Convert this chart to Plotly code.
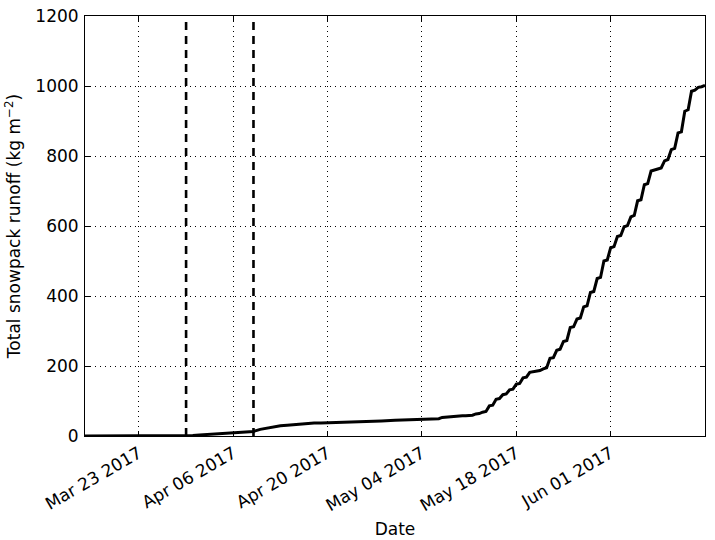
import plotly.graph_objects as go

# ---- data ----
times = [
    "2017-03-15", "2017-03-30", "2017-03-31", "2017-04-01", "2017-04-02", "2017-04-03",
    "2017-04-04", "2017-04-05", "2017-04-06", "2017-04-07", "2017-04-08", "2017-04-09",
    "2017-04-10", "2017-04-11", "2017-04-12", "2017-04-13", "2017-04-14", "2017-04-15",
    "2017-04-16", "2017-04-17", "2017-04-18", "2017-04-19", "2017-04-20", "2017-04-22",
    "2017-04-24", "2017-04-26", "2017-04-28", "2017-04-30", "2017-05-02",
    "2017-05-04 00:00", "2017-05-04 12:00", "2017-05-05 00:00", "2017-05-05 12:00",
    "2017-05-06 00:00", "2017-05-06 12:00", "2017-05-07 00:00", "2017-05-07 12:00",
    "2017-05-08 00:00", "2017-05-08 12:00", "2017-05-09 00:00", "2017-05-09 12:00",
    "2017-05-10 00:00", "2017-05-10 12:00", "2017-05-11 00:00", "2017-05-11 12:00",
    "2017-05-12 00:00", "2017-05-12 12:00", "2017-05-13 00:00", "2017-05-13 12:00",
    "2017-05-14 00:00", "2017-05-14 12:00", "2017-05-15 00:00", "2017-05-15 12:00",
    "2017-05-16 00:00", "2017-05-16 12:00", "2017-05-17 00:00", "2017-05-17 12:00",
    "2017-05-18 00:00", "2017-05-18 12:00", "2017-05-19 00:00", "2017-05-19 12:00",
    "2017-05-20 00:00", "2017-05-20 12:00", "2017-05-21 00:00", "2017-05-21 12:00",
    "2017-05-22 00:00", "2017-05-22 12:00", "2017-05-23 00:00", "2017-05-23 12:00",
    "2017-05-24 00:00", "2017-05-24 12:00", "2017-05-25 00:00", "2017-05-25 12:00",
    "2017-05-26 00:00", "2017-05-26 12:00", "2017-05-27 00:00", "2017-05-27 12:00",
    "2017-05-28 00:00", "2017-05-28 12:00", "2017-05-29 00:00", "2017-05-29 12:00",
    "2017-05-30 00:00", "2017-05-30 12:00", "2017-05-31 00:00", "2017-05-31 12:00",
    "2017-06-01 00:00", "2017-06-01 12:00", "2017-06-02 00:00", "2017-06-02 12:00",
    "2017-06-03 00:00", "2017-06-03 12:00", "2017-06-04 00:00", "2017-06-04 12:00",
    "2017-06-05 00:00", "2017-06-05 12:00", "2017-06-06 00:00", "2017-06-06 12:00",
    "2017-06-07 00:00", "2017-06-07 12:00", "2017-06-08 00:00", "2017-06-08 12:00",
    "2017-06-09 00:00", "2017-06-09 12:00", "2017-06-10 00:00", "2017-06-10 12:00",
    "2017-06-11 00:00", "2017-06-11 12:00", "2017-06-12 00:00", "2017-06-12 12:00",
    "2017-06-13 00:00", "2017-06-13 12:00", "2017-06-14 00:00", "2017-06-14 12:00",
    "2017-06-15 00:00",
]
runoff = [
    0, 0, 1.5, 3, 4.5, 6,
    7, 8, 9, 10, 11.5, 13,
    19, 23, 26, 29, 31, 33,
    35, 36, 37, 37.5, 38, 38.5,
    40, 42, 43, 45, 46,
    47, 47, 47, 47.5,
    49, 49.5, 53, 54,
    56, 56.5, 57, 57,
    58, 58, 59, 59.5,
    63, 64, 68, 70,
    86, 88, 105, 107,
    118, 120, 132, 134,
    148, 150, 166, 168,
    182, 183, 186, 187,
    192, 195, 222, 224,
    245, 248, 270, 273,
    310, 312, 334, 337,
    369, 372, 410, 413,
    450, 453, 500, 503,
    538, 541, 570, 573,
    598, 601, 626, 630,
    672, 675, 718, 721,
    757, 759, 763, 766,
    786, 790, 818, 822,
    866, 869, 928, 932,
    985, 988, 996, 998,
    1002,
]
event_dates = ["2017-03-30", "2017-04-09"]
x_range = ["2017-03-15", "2017-06-15"]
x_tick_vals = ["2017-03-23", "2017-04-06", "2017-04-20", "2017-05-04", "2017-05-18", "2017-06-01"]
x_tick_text = ["Mar 23 2017", "Apr 06 2017", "Apr 20 2017", "May 04 2017", "May 18 2017", "Jun 01 2017"]
y_tick_vals = [0, 200, 400, 600, 800, 1000, 1200]

FONT = "DejaVu Sans"
FS = 17

fig = go.Figure()
fig.add_trace(go.Scatter(
    x=times, y=runoff, mode="lines",
    line=dict(color="black", width=3),
    showlegend=False, hoverinfo="skip",
))

for d in event_dates:
    fig.add_shape(type="line", xref="x", yref="paper", x0=d, x1=d, y0=0, y1=1,
                  line=dict(color="black", width=2.6, dash="8px,6px"), layer="above")

axis_common = dict(
    showline=True, linecolor="black", linewidth=1, mirror="allticks",
    ticks="inside", ticklen=5, tickwidth=1, tickcolor="black",
    showgrid=True, gridcolor="black", gridwidth=0.6, griddash="1px,4px",
    zeroline=False, automargin=False,
    tickfont=dict(family=FONT, size=FS, color="black"),
)

fig.update_xaxes(
    type="date", range=x_range, tickvals=x_tick_vals, ticktext=x_tick_text,
    tickangle=-30,
    title=dict(text="Date", font=dict(family=FONT, size=FS, color="black"), standoff=8),
    **axis_common,
)
fig.update_yaxes(
    range=[0, 1200], tickvals=y_tick_vals, ticklabelstandoff=2,
    title=dict(text="Total snowpack runoff (kg m<sup>\u22122</sup>)",
               font=dict(family=FONT, size=FS, color="black"), standoff=10),
    **axis_common,
)

fig.update_layout(
    width=715, height=540,
    margin=dict(l=85, r=10, t=16, b=104),
    paper_bgcolor="white", plot_bgcolor="white",
    font=dict(family=FONT, size=FS, color="black"),
)

fig.write_html(
    "out.html",
    config={"displayModeBar": False},
    post_script="document.body.style.margin='0';document.body.style.overflow='hidden';",
)
